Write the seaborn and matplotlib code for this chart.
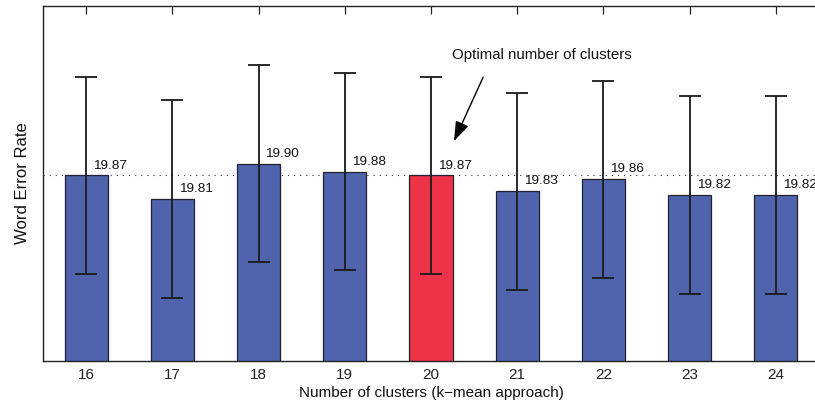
import matplotlib
matplotlib.use("Agg")
import matplotlib.pyplot as plt
import seaborn as sns
import pandas as pd

# Word error rate per number of clusters (k-mean approach)
clusters = ["16", "17", "18", "19", "20", "21", "22", "23", "24"]
wer = [19.87, 19.81, 19.90, 19.88, 19.87, 19.83, 19.86, 19.82, 19.82]
wer_err = [0.25, 0.25, 0.25, 0.25, 0.25, 0.25, 0.25, 0.25, 0.25]
value_labels = ["19.87", "19.81", "19.90", "19.88", "19.87", "19.83", "19.86", "19.82", "19.82"]
optimal = "20"

BLUE = "#5063AD"
RED = "#EE3349"

sns.set_style("white")
plt.rcParams["font.family"] = ["Liberation Sans", "DejaVu Sans"]

df = pd.DataFrame({"clusters": clusters, "wer": wer})
palette = {c: (RED if c == optimal else BLUE) for c in clusters}

fig = plt.figure(figsize=(8.15, 4.09), dpi=100)
ax = fig.add_axes([43 / 815, 48 / 409, 776 / 815, 355.3 / 409])

sns.barplot(data=df, x="clusters", y="wer", hue="clusters", palette=palette,
            order=clusters, width=0.5, errorbar=None, legend=False,
            edgecolor="#22222e", linewidth=0.9, saturation=1, ax=ax, zorder=2)

xs = list(range(len(clusters)))
ax.errorbar(xs, wer, yerr=wer_err, fmt="none", ecolor="#1a1a1a",
            elinewidth=1.3, capsize=8, capthick=1.3, zorder=3)

# reference level of the optimal configuration
ref = wer[clusters.index(optimal)]
ax.axhline(ref, color="#333333", lw=0.8, ls=(0, (1, 4.5)), zorder=1)

for x, v, t in zip(xs, wer, value_labels):
    ax.annotate(t, xy=(x, v), xytext=(5, 5), textcoords="offset points",
                ha="left", va="baseline", fontsize=9.7, color="#111111",
                zorder=4)

ax.text(5.29, 20.175, "Optimal number of clusters", ha="center", va="center",
        fontsize=10.8, color="#111111")
ax.annotate("", xy=(4.267, 19.957), xytext=(4.605, 20.119),
            arrowprops=dict(arrowstyle="-|>,head_length=1.0,head_width=0.35",
                            mutation_scale=12, color="black", lw=1.0,
                            shrinkA=0, shrinkB=0))

ax.set_ylim(19.4, 20.3)
ax.set_xlim(-0.5, 8.5)
ax.set_yticks([])
ax.set_xlabel("Number of clusters (k\u2212mean approach)", fontsize=11,
              labelpad=3, color="#111111")
ax.set_ylabel("Word Error Rate", fontsize=12, labelpad=9, color="#111111")
ax.tick_params(axis="x", which="both", direction="in", top=True, bottom=True,
               length=5.4, width=0.9, color="#222222", labelsize=11,
               labelcolor="#222222", pad=5)
for side in ["left", "top", "bottom", "right"]:
    ax.spines[side].set_color("#222222")
    ax.spines[side].set_linewidth(1.0)
    ax.spines[side].set_visible(True)

fig.savefig("out.png", dpi=100)
